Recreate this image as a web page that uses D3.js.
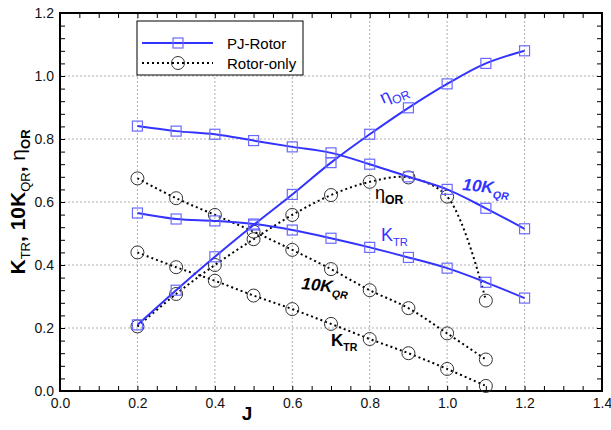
<!DOCTYPE html>
<html>
<head>
<meta charset="utf-8">
<script src="https://cdn.jsdelivr.net/npm/d3@7"></script>
<style>
  body { margin: 0; background: #fff; }
  text { font-family: Arial, "Liberation Sans", sans-serif; }
</style>
</head>
<body>
<div id="chart"></div>
<script>
// advance ratio
var jPJ = [0.2, 0.3, 0.4, 0.5, 0.6, 0.7, 0.8, 0.9, 1.0, 1.1, 1.2];
var jRotor = [0.2, 0.3, 0.4, 0.5, 0.6, 0.7, 0.8, 0.9, 1.0, 1.1];

// PJ-Rotor
var pjEta  = [0.21, 0.32, 0.426, 0.527, 0.624, 0.725, 0.815, 0.899, 0.975, 1.04, 1.08];
var pjKq10 = [0.841, 0.825, 0.815, 0.795, 0.775, 0.756, 0.72, 0.68, 0.64, 0.58, 0.515];
var pjKt   = [0.565, 0.546, 0.54, 0.53, 0.511, 0.485, 0.456, 0.424, 0.39, 0.345, 0.295];

// Rotor-only
var roEta  = [0.205, 0.308, 0.40, 0.482, 0.559, 0.622, 0.664, 0.678, 0.617, 0.287];
var roKq10 = [0.675, 0.612, 0.559, 0.506, 0.448, 0.387, 0.32, 0.263, 0.183, 0.10];
var roKt   = [0.44, 0.393, 0.35, 0.303, 0.26, 0.213, 0.165, 0.12, 0.07, 0.016];

var xTicks = [0.0, 0.2, 0.4, 0.6, 0.8, 1.0, 1.2, 1.4];
var yTicks = [0.0, 0.2, 0.4, 0.6, 0.8, 1.0, 1.2];

var width = 611, height = 430;
var margin = {top: 13, right: 9, bottom: 39, left: 60};

var svg = d3.select("#chart").append("svg")
    .attr("width", width)
    .attr("height", height);

var x = d3.scaleLinear().domain([0, 1.4]).range([margin.left, width - margin.right]);
var y = d3.scaleLinear().domain([0, 1.2]).range([height - margin.bottom, margin.top]);

var blue = "#3333ff", markBlue = "#6a6aff";

// grid
var grid = svg.append("g").attr("class", "grid")
    .attr("stroke", "#999").attr("stroke-width", 0.8).attr("stroke-dasharray", "2,2");
grid.selectAll("line.gx").data(xTicks.slice(1, -1)).enter().append("line")
    .attr("x1", function(d){ return x(d); }).attr("x2", function(d){ return x(d); })
    .attr("y1", y(0)).attr("y2", y(1.2));
grid.selectAll("line.gy").data(yTicks.slice(1, -1)).enter().append("line")
    .attr("y1", function(d){ return y(d); }).attr("y2", function(d){ return y(d); })
    .attr("x1", x(0)).attr("x2", x(1.4));

// axes: ticks inward, on all four sides
var xMinor = d3.range(0, 1.4001, 0.05);
var yMinor = d3.range(0, 1.2001, 0.04);

svg.append("g").attr("transform", "translate(0," + y(0) + ")")
  .call(d3.axisTop(x).tickValues(xMinor).tickSize(5).tickFormat(""))
  .call(function(g){ g.select(".domain").remove(); });
svg.append("g").attr("transform", "translate(0," + y(1.2) + ")")
  .call(d3.axisBottom(x).tickValues(xMinor).tickSize(5).tickFormat(""))
  .call(function(g){ g.select(".domain").remove(); });
svg.append("g").attr("transform", "translate(" + x(0) + ",0)")
  .call(d3.axisRight(y).tickValues(yMinor).tickSize(5).tickFormat(""))
  .call(function(g){ g.select(".domain").remove(); });
svg.append("g").attr("transform", "translate(" + x(1.4) + ",0)")
  .call(d3.axisLeft(y).tickValues(yMinor).tickSize(5).tickFormat(""))
  .call(function(g){ g.select(".domain").remove(); });

// tick labels
var xAxis = svg.append("g").attr("transform", "translate(0," + y(0) + ")")
  .call(d3.axisBottom(x).tickValues(xTicks).tickSize(0).tickPadding(7).tickFormat(d3.format(".1f")));
xAxis.select(".domain").remove();
xAxis.selectAll("text").attr("font-size", 14).attr("fill", "#111");

var yAxis = svg.append("g").attr("transform", "translate(" + x(0) + ",0)")
  .call(d3.axisLeft(y).tickValues(yTicks).tickSize(0).tickPadding(6).tickFormat(d3.format(".1f")));
yAxis.select(".domain").remove();
yAxis.selectAll("text").attr("font-size", 14).attr("fill", "#111");

// frame
svg.append("rect")
    .attr("x", x(0)).attr("y", y(1.2))
    .attr("width", x(1.4) - x(0)).attr("height", y(0) - y(1.2))
    .attr("fill", "none").attr("stroke", "#000").attr("stroke-width", 2);

// series
var line = d3.line()
    .x(function(d){ return x(d[0]); })
    .y(function(d){ return y(d[1]); })
    .curve(d3.curveCatmullRom.alpha(0.5));

function drawPJ(vals) {
  var pts = jPJ.map(function(j, i){ return [j, vals[i]]; });
  svg.append("path").datum(pts).attr("d", line)
     .attr("fill", "none").attr("stroke", blue).attr("stroke-width", 2);
  svg.append("g").selectAll("rect").data(pts).enter().append("rect")
     .attr("x", function(d){ return x(d[0]) - 5; })
     .attr("y", function(d){ return y(d[1]) - 5; })
     .attr("width", 10).attr("height", 10)
     .attr("fill", "none").attr("stroke", markBlue).attr("stroke-width", 1.2);
}

function drawRotor(vals) {
  var pts = jRotor.map(function(j, i){ return [j, vals[i]]; });
  svg.append("path").datum(pts).attr("d", line)
     .attr("fill", "none").attr("stroke", "#000").attr("stroke-width", 2)
     .attr("stroke-dasharray", "2,3");
  svg.append("g").selectAll("circle").data(pts).enter().append("circle")
     .attr("cx", function(d){ return x(d[0]); })
     .attr("cy", function(d){ return y(d[1]); })
     .attr("r", 6.5)
     .attr("fill", "none").attr("stroke", "#333").attr("stroke-width", 1);
}

drawRotor(roEta);
drawRotor(roKq10);
drawRotor(roKt);
drawPJ(pjEta);
drawPJ(pjKq10);
drawPJ(pjKt);

// curve labels
function subLabel(px, py, main, sub, opts) {
  var t = svg.append("text")
     .attr("transform", "translate(" + px + "," + py + ") rotate(" + (opts.rot || 0) + ")")
     .attr("fill", opts.color)
     .attr("font-size", opts.size)
     .attr("font-weight", opts.bold ? "bold" : "normal")
     .attr("font-style", opts.italic ? "italic" : "normal");
  t.append("tspan").text(main);
  t.append("tspan").attr("dy", opts.size * 0.3).attr("font-size", opts.size * (opts.sub || 0.62))
   .attr("font-weight", opts.subBold ? "bold" : null).text(sub);
  return t;
}

subLabel(383, 104, "\u03b7", "OR", {color: blue, size: 18, rot: -24, sub: 0.68});
subLabel(462, 190, "10K", "QR", {color: blue, size: 17, bold: true, italic: true, rot: 6});
subLabel(381, 241, "K", "TR", {color: blue, size: 18});
subLabel(375, 199, "\u03b7", "OR", {color: "#000", size: 18, sub: 0.68, subBold: true});
subLabel(301, 289, "10K", "QR", {color: "#000", size: 17, bold: true, italic: true, rot: 6});
subLabel(331, 346, "K", "TR", {color: "#000", size: 17, bold: true});

// axis titles
svg.append("text")
   .attr("x", 247).attr("y", 420)
   .attr("text-anchor", "middle")
   .attr("font-size", 19).attr("font-weight", "bold")
   .text("J");

var yt = svg.append("text")
   .attr("transform", "translate(25,202) rotate(-90)")
   .attr("text-anchor", "middle")
   .attr("font-size", 21).attr("font-weight", "bold");
yt.append("tspan").text("K");
yt.append("tspan").attr("dy", 5).attr("font-size", 13).attr("font-weight", "normal").text("TR");
yt.append("tspan").attr("dy", -5).text(", 10K");
yt.append("tspan").attr("dy", 5).attr("font-size", 13).attr("font-weight", "normal").text("QR");
yt.append("tspan").attr("dy", -5).text(", ");
yt.append("tspan").attr("font-weight", "normal").text("\u03b7");
yt.append("tspan").attr("dy", 5).attr("font-size", 13).text("OR");

// legend
var lg = svg.append("g").attr("transform", "translate(137,21)");
lg.append("rect").attr("width", 166).attr("height", 54)
  .attr("fill", "#fff").attr("stroke", "#000").attr("stroke-width", 1);
lg.append("line").attr("x1", 5).attr("x2", 76).attr("y1", 22).attr("y2", 22)
  .attr("stroke", blue).attr("stroke-width", 2);
lg.append("rect").attr("x", 36).attr("y", 17).attr("width", 10).attr("height", 10)
  .attr("fill", "none").attr("stroke", markBlue).attr("stroke-width", 1.2);
lg.append("text").attr("x", 90).attr("y", 28).attr("font-size", 15).text("PJ-Rotor");
lg.append("line").attr("x1", 5).attr("x2", 76).attr("y1", 42).attr("y2", 42)
  .attr("stroke", "#000").attr("stroke-width", 2).attr("stroke-dasharray", "2,3");
lg.append("circle").attr("cx", 41).attr("cy", 42).attr("r", 6.5)
  .attr("fill", "none").attr("stroke", "#333").attr("stroke-width", 1);
lg.append("text").attr("x", 90).attr("y", 48).attr("font-size", 15).text("Rotor-only");
</script>
</body>
</html>
